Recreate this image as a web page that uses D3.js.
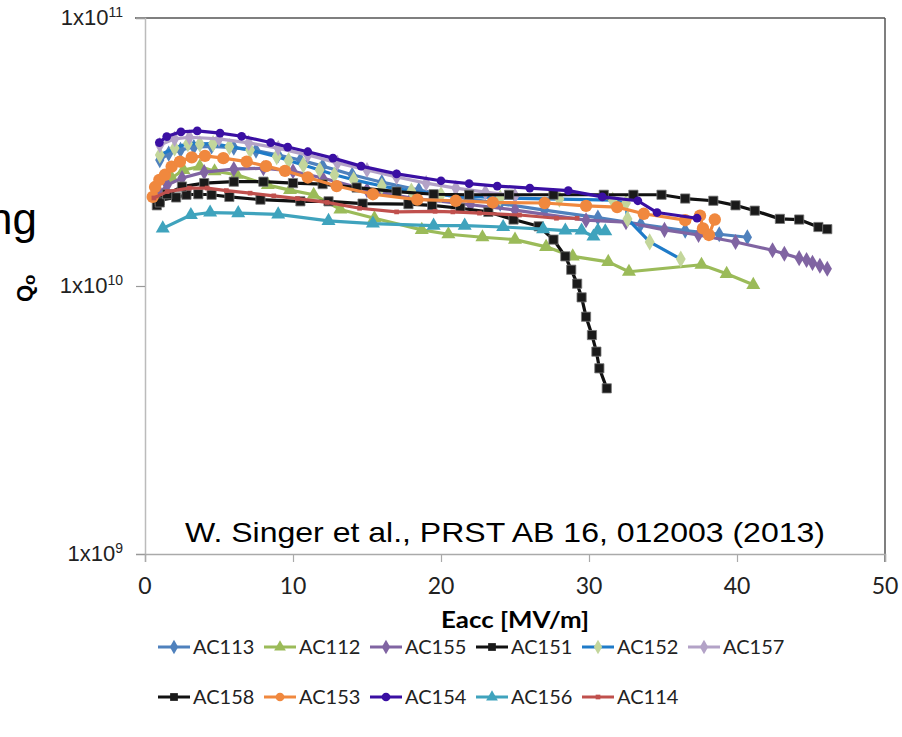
<!DOCTYPE html>
<html>
<head>
<meta charset="utf-8">
<title>Q0 vs Eacc</title>
<script src="https://cdn.jsdelivr.net/npm/d3@7"></script>
<style>
  body { margin: 0; background: #fff; }
  svg { display: block; }
</style>
</head>
<body>
<svg id="chart"></svg>
<script>
// Eacc [MV/m], Q0 in units of 1e10
let ac113 = [[1.0,2.95],[1.6,3.12],[2.4,3.22],[3.3,3.3],[4.5,3.32],[6,3.28],[7.5,3.2],[9,3.08],[10.5,2.95],[12,2.8],[14,2.6],[16,2.44],[18.5,2.28],[21,2.15],[24,2.03],[27,1.92],[30.6,1.80],[33.5,1.70],[36.5,1.61],[38.8,1.56],[40.7,1.52]];
let ac112 = [[1.0,2.19],[1.8,2.53],[2.6,2.71],[3.7,2.79],[4.7,2.68],[6.2,2.60],[8.3,2.38],[9.8,2.28],[11.4,2.19],[13.2,1.93],[15.5,1.79],[18.7,1.62],[20.5,1.56],[22.8,1.52],[25.0,1.49],[27.1,1.40],[28.9,1.29],[31.3,1.23],[32.7,1.13],[37.6,1.20],[39.3,1.11],[41.1,1.01]];
let ac155 = [[1.0,2.22],[1.5,2.38],[2.5,2.53],[4,2.66],[6,2.73],[8,2.75],[10,2.68],[12,2.53],[15,2.28],[18,2.13],[22,2.01],[25,1.92],[29.8,1.76],[32.5,1.73],[35.1,1.62],[37.4,1.55],[39.9,1.46],[42.4,1.36],[43.2,1.32],[44.2,1.27],[44.7,1.25],[45.1,1.22],[45.6,1.19],[46.1,1.16]];
let ac151 = [[0.8,2.0],[1.0,2.09],[2.1,2.14],[2.8,2.19],[3.6,2.2],[4.5,2.19],[5.7,2.15],[7.8,2.1],[10.5,2.07],[12.4,2.07],[14.7,2.03],[17.8,2.02],[19.4,2.0],[21.3,1.95],[23.2,1.89],[24.9,1.77],[26.6,1.67],[27.6,1.49],[28.4,1.29],[28.8,1.15],[29.2,1.02],[29.5,0.907],[29.8,0.768],[30.2,0.656],[30.5,0.569],[30.7,0.493],[31.2,0.415]];
let ac152 = [[1.0,3.08],[2.0,3.27],[2.9,3.40],[3.7,3.39],[4.6,3.40],[5.7,3.31],[7.1,3.22],[8.9,3.04],[9.7,2.94],[10.7,2.83],[11.8,2.71],[12.8,2.60],[14.1,2.49],[16,2.36],[18,2.26],[20,2.19],[24,2.13],[28,2.11],[31.6,2.09],[32.5,2.04],[32.6,1.78],[34.1,1.46],[36.2,1.26]];
let ac157 = [[1.0,3.36],[2,3.54],[3,3.59],[5,3.54],[7,3.42],[9,3.27],[11,3.08],[13,2.88],[15,2.71],[17,2.55],[19,2.42],[21,2.32],[23,2.24],[25,2.17]];
let ac158 = [[1.0,2.05],[1.5,2.2],[2.5,2.35],[4,2.42],[6,2.45],[8,2.45],[10,2.42],[12,2.4],[14.3,2.33],[17,2.25],[19.5,2.2],[21.9,2.19],[24.6,2.19],[27.6,2.19],[31.0,2.19],[33.0,2.19],[34.9,2.19],[36.5,2.12],[38.4,2.08],[39.9,2.0],[41.2,1.91],[42.9,1.78],[44.2,1.77],[45.5,1.66],[46.1,1.63]];
let ac153 = [[0.52,2.15],[0.68,2.34],[0.97,2.49],[1.35,2.60],[1.8,2.79],[2.36,2.91],[3.16,3.02],[4.05,3.06],[5.29,3.0],[6.87,2.91],[8.18,2.80],[9.46,2.69],[11.0,2.54],[12.95,2.36],[15.4,2.20],[18.4,2.10],[21.0,2.08],[23.5,2.05],[27.0,2.04],[29.8,1.99],[31.9,1.97],[33.7,1.86],[36.5,1.76],[37.5,1.83],[37.7,1.64],[38.1,1.55],[38.5,1.77]];
let ac154 = [[0.97,3.43],[1.47,3.61],[2.43,3.76],[3.53,3.79],[5.07,3.72],[6.53,3.62],[8.49,3.43],[9.64,3.30],[11.0,3.17],[12.7,3.0],[14.6,2.80],[17.0,2.62],[20.0,2.47],[21.9,2.41],[23.8,2.36],[26.0,2.32],[28.6,2.27],[30.9,2.15],[33.3,2.08],[34.6,1.88],[37.3,1.79]];
let ac156 = [[1.2,1.64],[3.1,1.84],[4.4,1.88],[6.3,1.87],[9.0,1.85],[12.4,1.75],[15.4,1.71],[19.5,1.68],[21.6,1.68],[24.2,1.66],[26.9,1.63],[28.4,1.61],[29.5,1.61],[30.3,1.53],[30.6,1.61],[31.1,1.60]];
let ac114 = [[0.6,2.13],[1.5,2.25],[3.0,2.32],[4.2,2.32],[5.5,2.27],[7.1,2.22],[8.7,2.17],[10.3,2.12],[12.3,2.05],[14.5,1.95],[17.0,1.89],[19.6,1.90],[20.8,1.89],[22.6,1.87],[25.3,1.84],[27.8,1.79],[29.2,1.79]];

let xTicks = [0, 10, 20, 30, 40, 50];
let yTicks = [9, 10, 11]; // exponents

let series = [
  {name: 'AC113', data: ac113, color: '#4F81BD', fill: '#4F81BD', shape: d3.symbolDiamond, size: 75},
  {name: 'AC112', data: ac112, color: '#9BBB59', fill: '#9BBB59', shape: d3.symbolTriangle, size: 85},
  {name: 'AC155', data: ac155, color: '#8064A2', fill: '#8064A2', shape: d3.symbolDiamond, size: 75},
  {name: 'AC151', data: ac151, color: '#111', fill: '#1a1a1a', shape: d3.symbolSquare, size: 85},
  {name: 'AC152', data: ac152, color: '#1F7BC8', fill: '#C3D69B', shape: d3.symbolDiamond, size: 85},
  {name: 'AC157', data: ac157, color: '#B3A2C7', fill: '#B3A2C7', shape: d3.symbolDiamond, size: 75},
  {name: 'AC158', data: ac158, color: '#111', fill: '#1a1a1a', shape: d3.symbolSquare, size: 85},
  {name: 'AC153', data: ac153, color: '#F0883E', fill: '#F0883E', shape: d3.symbolCircle, size: 120},
  {name: 'AC154', data: ac154, color: '#3A0FA3', fill: '#3A0FA3', shape: d3.symbolCircle, size: 60},
  {name: 'AC156', data: ac156, color: '#3FA3BD', fill: '#3FA3BD', shape: d3.symbolTriangle, size: 85},
  {name: 'AC114', data: ac114, color: '#C0504D', fill: '#C0504D', shape: d3.symbolSquare, size: 22}
];

let width = 902, height = 737;
let svg = d3.select('#chart').attr('width', width).attr('height', height);

let x = d3.scaleLinear().domain([0, 50]).range([145, 885]);
let y = d3.scaleLog().domain([1e9, 1e11]).range([554, 18]);

// stray slide text on the left edge (cut off in the original too)
svg.append('text')
  .attr('x', -12).attr('y', 234)
  .style('font-family', 'Liberation Sans, Arial, sans-serif')
  .style('font-size', '44px')
  .text('ng');

// plot frame
svg.append('line').attr('x1', 135).attr('x2', 885).attr('y1', 18).attr('y2', 18)
  .attr('stroke', '#555').attr('stroke-width', 1.5);
svg.append('line').attr('x1', 885).attr('x2', 885).attr('y1', 18).attr('y2', 562)
  .attr('stroke', '#555').attr('stroke-width', 1.5);

// y axis
let yAxis = d3.axisLeft(y).tickValues(yTicks.map(e => Math.pow(10, e))).tickSize(9).tickFormat('');
let yg = svg.append('g').attr('transform', 'translate(145,0)').call(yAxis);
yg.select('.domain').attr('stroke', '#bbb').attr('stroke-width', 1.5);
yg.selectAll('.tick line').attr('stroke', '#999').attr('stroke-width', 1.2);

let yl = svg.append('g').selectAll('text').data(yTicks).join('text')
  .attr('x', 123)
  .attr('y', d => y(Math.pow(10, d)) + 7)
  .attr('text-anchor', 'end')
  .style('font-family', 'Liberation Sans, Arial, sans-serif')
  .style('font-size', '22px')
  .attr('fill', '#222');
yl.append('tspan').text('1x10');
yl.append('tspan').attr('dy', -8).style('font-size', '14px').text(d => d);

// x axis
let xAxis = d3.axisBottom(x).tickValues(xTicks).tickSize(8).tickFormat('');
let xg = svg.append('g').attr('transform', 'translate(0,554)').call(xAxis);
xg.select('.domain').attr('stroke', '#aaa').attr('stroke-width', 1.5);
xg.selectAll('.tick line').attr('stroke', '#aaa').attr('stroke-width', 1.2);

svg.append('g').selectAll('text').data(xTicks).join('text')
  .attr('x', d => x(d))
  .attr('y', 594)
  .attr('text-anchor', 'middle')
  .style('font-family', 'Lato, sans-serif')
  .style('font-size', '23px')
  .attr('fill', '#222')
  .text(d => d);

svg.append('text')
  .attr('x', 515).attr('y', 628)
  .attr('text-anchor', 'middle')
  .attr('textLength', 148).attr('lengthAdjust', 'spacingAndGlyphs')
  .style('font-family', 'Lato, sans-serif')
  .style('font-size', '22px')
  .style('font-weight', 'bold')
  .text('Eacc [MV/m]');

// Qo label
let ql = svg.append('text')
  .attr('transform', 'translate(32,302) rotate(-90)')
  .style('font-family', 'Liberation Sans, Arial, sans-serif')
  .style('font-size', '22px')
  .style('font-weight', 'bold');
ql.append('tspan').text('Q');
ql.append('tspan').attr('dy', 3).style('font-size', '17px').text('o');

// citation
svg.append('text')
  .attr('x', 185).attr('y', 542)
  .attr('textLength', 640).attr('lengthAdjust', 'spacingAndGlyphs')
  .style('font-family', 'Liberation Sans Narrow, Liberation Sans, Arial, sans-serif')
  .style('font-size', '28px')
  .text('W. Singer et al., PRST AB 16, 012003 (2013)');

// series
let line = d3.line().x(d => x(d[0])).y(d => y(d[1] * 1e10));
let plot = svg.append('g');
series.forEach(s => {
  let g = plot.append('g');
  g.append('path')
    .datum(s.data)
    .attr('fill', 'none')
    .attr('stroke', s.color)
    .attr('stroke-width', 3.2)
    .attr('stroke-linejoin', 'round')
    .attr('d', line);
  g.selectAll('path.m').data(s.data).join('path')
    .attr('class', 'm')
    .attr('transform', d => 'translate(' + x(d[0]) + ',' + y(d[1] * 1e10) + ')')
    .attr('d', d3.symbol().type(s.shape).size(s.size))
    .attr('fill', s.fill)
    .attr('stroke', s.fill == '#1a1a1a' ? '#777' : 'none')
    .attr('stroke-width', 0.8);
});

// legend
let legend = svg.append('g');
series.forEach((s, i) => {
  let col = i < 6 ? i : i - 6;
  let row = i < 6 ? 0 : 1;
  let lx = 158 + col * 106;
  let ly = 647 + row * 50;
  let g = legend.append('g').attr('transform', 'translate(' + lx + ',' + ly + ')');
  g.append('line').attr('x1', 0).attr('x2', 32).attr('y1', 0).attr('y2', 0)
    .attr('stroke', s.color).attr('stroke-width', 3);
  g.append('path')
    .attr('transform', 'translate(16,0)')
    .attr('d', d3.symbol().type(s.shape).size(Math.min(s.size, 60)))
    .attr('fill', s.fill);
  g.append('text')
    .attr('x', 35).attr('y', 7)
    .style('font-family', 'Lato, sans-serif')
    .style('font-size', '20px')
    .attr('fill', '#222')
    .text(s.name);
});
</script>
</body>
</html>
